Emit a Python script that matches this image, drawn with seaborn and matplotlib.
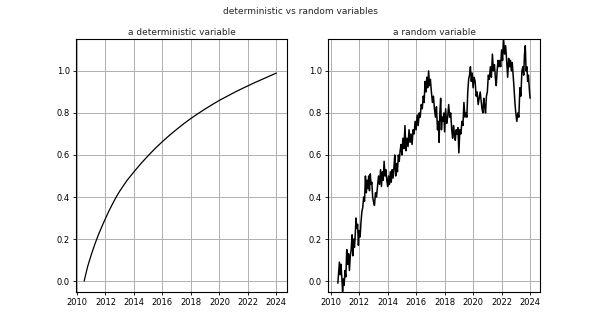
import numpy as np
import pandas as pd
import matplotlib
matplotlib.use("Agg")
import matplotlib.pyplot as plt
import seaborn as sns

# ---- data ----
det_years = [2010.5, 2010.75, 2011.0, 2011.25, 2011.5, 2011.75, 2012.0, 2012.25, 2012.5,
             2012.75, 2013.0, 2013.5, 2014.0, 2014.5, 2015.0, 2015.5, 2016.0, 2016.5,
             2017.0, 2017.5, 2018.0, 2018.5, 2019.0, 2019.5, 2020.0, 2020.5, 2021.0,
             2021.5, 2022.0, 2022.5, 2023.0, 2023.5, 2024.0]
det_values = [0.0, 0.07, 0.125, 0.175, 0.22, 0.26, 0.298, 0.335, 0.368,
              0.40, 0.428, 0.478, 0.52, 0.56, 0.597, 0.632, 0.664, 0.694,
              0.722, 0.749, 0.774, 0.797, 0.819, 0.84, 0.86, 0.878, 0.896,
              0.913, 0.929, 0.945, 0.96, 0.975, 0.99]

# random variable, one list per half-year starting at 2010.5
rand_start = 2010.5
rand_halfyears = [
    [-0.01, 0.04, 0.09, 0.03, 0.08, 0.02, -0.05, 0.01, -0.02],
    [0.05, 0.02, 0.15, 0.08, 0.13, 0.05, 0.12, 0.15],
    [0.22, 0.12, 0.20, 0.16, 0.22, 0.30, 0.25, 0.27, 0.17],
    [0.24, 0.21, 0.28, 0.33, 0.35, 0.40, 0.38, 0.50],
    [0.42, 0.48, 0.44, 0.50, 0.43, 0.51, 0.46, 0.47, 0.40],
    [0.38, 0.36, 0.42, 0.40, 0.45, 0.50, 0.46],
    [0.53, 0.45, 0.52, 0.48, 0.57, 0.50, 0.53, 0.48],
    [0.45, 0.50, 0.46, 0.52, 0.47, 0.53, 0.49, 0.54],
    [0.60, 0.50, 0.56, 0.52, 0.60, 0.57, 0.62, 0.65],
    [0.60, 0.68, 0.63, 0.74, 0.62, 0.68, 0.64],
    [0.72, 0.66, 0.70, 0.65, 0.72, 0.70, 0.76],
    [0.72, 0.79, 0.74, 0.80, 0.78, 0.84, 0.82],
    [0.88, 0.85, 0.95, 0.90, 0.97, 0.92, 1.00, 0.93],
    [0.96, 0.90, 0.85, 0.88, 0.82, 0.78, 0.83],
    [0.72, 0.76, 0.66, 0.80, 0.87, 0.72, 0.78, 0.76, 0.80],
    [0.71, 0.82, 0.75, 0.78, 0.84, 0.78, 0.80],
    [0.72, 0.68, 0.74, 0.70, 0.67, 0.72, 0.70, 0.73],
    [0.61, 0.72, 0.70, 0.76, 0.74, 0.85, 0.78],
    [0.80, 0.78, 0.90, 0.96, 0.98, 1.02, 0.95, 0.99],
    [0.92, 0.97, 0.95, 0.88, 0.90, 0.84, 0.87],
    [0.90, 0.86, 0.82, 0.80, 0.87, 0.83, 0.80, 0.88],
    [0.90, 0.98, 0.96, 1.02, 0.97, 1.08, 1.00],
    [1.03, 0.97, 0.93, 1.00, 1.05, 1.02, 1.05, 1.02],
    [1.10, 1.05, 1.15, 1.08, 1.12, 1.05, 0.97],
    [1.06, 1.02, 1.05, 1.00, 1.04, 0.98, 0.92, 0.85],
    [0.80, 0.76, 0.80, 0.78, 0.92, 0.88, 1.00],
    [1.02, 0.98, 1.08, 1.12, 1.00, 1.02, 0.95, 0.98, 0.92, 0.87],
]

x_ticks = [2010, 2012, 2014, 2016, 2018, 2020, 2022, 2024]
y_ticks = [0.0, 0.2, 0.4, 0.6, 0.8, 1.0]

# build tables
det_df = pd.DataFrame({"year": det_years, "value": det_values})
rx, ry = [], []
for i, seg in enumerate(rand_halfyears):
    s = rand_start + 0.5 * i
    n = len(seg)
    last = (i == len(rand_halfyears) - 1)
    for j, v in enumerate(seg):
        frac = j / (n - 1) if last else j / n
        rx.append(s + 0.5 * frac)
        ry.append(v)
rand_df = pd.DataFrame({"year": rx, "value": ry})

# ---- plot ----
sns.set_style("ticks")
plt.rcParams["font.family"] = ["DejaVu Sans"]

fig = plt.figure(figsize=(6.0, 3.28), dpi=100)
ax1 = fig.add_axes([0.1267, 0.1098, 0.3517, 0.7713])
ax2 = fig.add_axes([0.5467, 0.1098, 0.3533, 0.7713])

sns.lineplot(data=det_df, x="year", y="value", ax=ax1, color="black", linewidth=0.9)
sns.lineplot(data=rand_df, x="year", y="value", ax=ax2, color="black", linewidth=1.1)

ax1.set_xlim(2009.93, 2024.75)
ax2.set_xlim(2009.81, 2024.70)
for ax, title in [(ax1, "a deterministic variable"), (ax2, "a random variable")]:
    ax.set_ylim(-0.052, 1.152)
    ax.set_xticks(x_ticks)
    ax.set_xticklabels([str(t) for t in x_ticks])
    ax.set_yticks(y_ticks)
    ax.set_yticklabels([f"{t:.1f}" for t in y_ticks])
    ax.grid(True, color="#b0b0b0", linewidth=0.7)
    ax.set_xlabel("")
    ax.set_ylabel("")
    ax.tick_params(labelsize=6, length=2.5, width=0.6, pad=2, colors="black")
    for sp in ax.spines.values():
        sp.set_color("black")
        sp.set_linewidth(0.8)
    ax.set_title(title, fontsize=6.5, pad=3)

fig.suptitle("deterministic vs random variables", fontsize=6.5, y=0.98)

fig.savefig("out.png", dpi=100)
